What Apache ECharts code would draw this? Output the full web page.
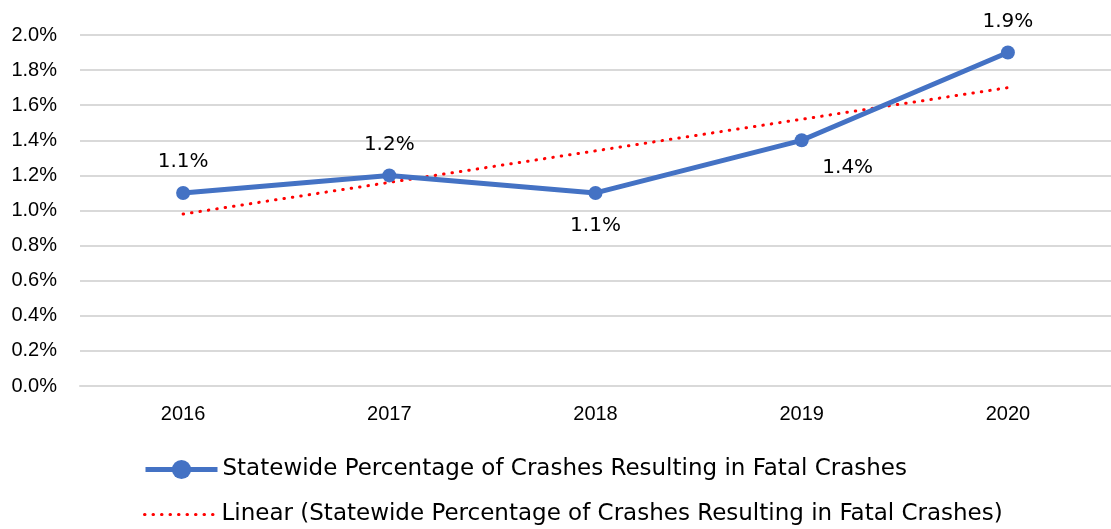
<!DOCTYPE html>
<html>
<head>
<meta charset="utf-8">
<script src="https://cdn.jsdelivr.net/npm/echarts@6/dist/echarts.min.js"></script>
<style>html,body{margin:0;padding:0;background:#fff}#c{width:1111px;height:529px}</style>
</head>
<body>
<div id="c"></div>
<script>
const categories = ['2016', '2017', '2018', '2019', '2020'];
const fatalPct = [1.1, 1.2, 1.1, 1.4, 1.9];
const trendPct = [0.98, 1.16, 1.34, 1.52, 1.70];
const seriesName = 'Statewide Percentage of Crashes Resulting in Fatal Crashes';
const trendName = 'Linear (Statewide Percentage of Crashes Resulting in Fatal Crashes)';
const labelPositions = [
  { position: 'top', distance: 14 },
  { position: 'top', distance: 14 },
  { position: 'bottom', distance: 16 },
  { position: 'bottom', distance: 10, offset: [46, 0] },
  { position: 'top', distance: 14 }
];

const legendText = { fontFamily: 'DejaVu Sans', fontSize: 23, color: '#000' };

const chart = echarts.init(document.getElementById('c'), null, { renderer: 'canvas' });
chart.setOption({
  animation: false,
  backgroundColor: '#ffffff',
  grid: { left: 80, top: 35, width: 1032, height: 351, containLabel: false },
  xAxis: {
    type: 'category',
    data: categories,
    boundaryGap: true,
    axisLine: { show: true, lineStyle: { color: '#d9d9d9', width: 2 } },
    axisTick: { show: false },
    axisLabel: { color: '#000', fontFamily: 'Liberation Sans', fontSize: 20, margin: 18 }
  },
  yAxis: {
    type: 'value',
    min: 0, max: 2.0, interval: 0.2,
    axisLine: { show: false },
    axisTick: { show: false },
    splitLine: { lineStyle: { color: '#d9d9d9', width: 2 } },
    axisLabel: {
      color: '#000', fontFamily: 'Liberation Sans', fontSize: 20, margin: 23,
      formatter: v => v.toFixed(1) + '%'
    }
  },
  legend: [
    {
      left: 138, top: 453,
      itemWidth: 72, itemHeight: 24, itemGap: 0,
      textStyle: legendText,
      data: [{ name: seriesName, lineStyle: { width: 5, color: '#4472C4' } }]
    },
    {
      left: 138, top: 498,
      itemWidth: 72, itemHeight: 24, itemGap: 0,
      textStyle: legendText,
      data: [{ name: trendName, itemStyle: { opacity: 0 }, lineStyle: { width: 3, color: '#FF0000', type: [0.5, 8], cap: 'round' } }]
    }
  ],
  series: [
    {
      name: seriesName,
      type: 'line',
      data: fatalPct.map((v, i) => ({
        value: v,
        label: labelPositions[i]
      })),
      color: '#4472C4',
      lineStyle: { color: '#4472C4', width: 5 },
      symbol: 'circle',
      symbolSize: 14,
      itemStyle: { color: '#4472C4' },
      label: {
        show: true,
        fontFamily: 'DejaVu Sans',
        fontSize: 20,
        color: '#000',
        formatter: p => p.value.toFixed(1) + '%'
      },
      z: 3
    },
    {
      name: trendName,
      type: 'line',
      data: trendPct,
      color: '#FF0000',
      symbol: 'none',
      lineStyle: { color: '#FF0000', width: 3, type: [0.5, 8], cap: 'round' },
      z: 2
    }
  ]
});
</script>
</body>
</html>
